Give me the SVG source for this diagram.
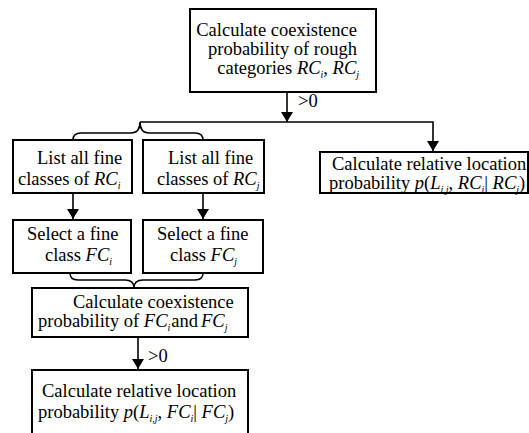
<svg xmlns="http://www.w3.org/2000/svg" width="529" height="433" viewBox="0 0 529 433">
<style>
.box{fill:#fff;stroke:#000;stroke-width:2}
.ln{fill:none;stroke:#000;stroke-width:1.6}
text{font-family:"Liberation Serif","Times New Roman",serif;font-size:18.5px;fill:#000}
.it{font-style:italic}
.sub{font-style:italic;font-size:10px}
</style>
<defs>
<marker id="ah" viewBox="0 0 10 14" refX="10" refY="7" markerWidth="10" markerHeight="14" markerUnits="userSpaceOnUse" orient="auto">
<path d="M0,1 L10,7 L0,13 Z" fill="#000"/>
</marker>
</defs>
<rect width="529" height="433" fill="#fff"/>
<g id="connectors">
<line class="ln" x1="287" y1="92" x2="287" y2="122" marker-end="url(#ah)"/>
<polyline class="ln" points="140,122 433,122 433,151" marker-end="url(#ah)"/>
<path class="ln" d="M73,140 Q73,133 81,133 L131,133 Q140,133 140,122 Q140,133 149,133 L195,133 Q203,133 203,140"/>
<line class="ln" x1="73" y1="193" x2="73" y2="219" marker-end="url(#ah)"/>
<line class="ln" x1="203" y1="193" x2="203" y2="219" marker-end="url(#ah)"/>
<path class="ln" d="M70,273 Q70,280 78,280 L125,280 Q134,280 134,288 Q134,280 143,280 L195,280 Q203,280 203,273"/>
<line class="ln" x1="138" y1="337" x2="138" y2="369" marker-end="url(#ah)"/>
<text x="298" y="107" font-size="20">&gt;0</text>
<text x="148" y="362" font-size="20">&gt;0</text>
</g>
<g id="n1">
<rect class="box" x="190" y="9" width="186" height="83"/>
<text x="357" y="36" text-anchor="end">Calculate coexistence</text>
<text x="357" y="55" text-anchor="end">probability of rough</text>
<text x="359" y="74" text-anchor="end">categories <tspan class="it">RC</tspan><tspan class="sub" dy="4">i</tspan><tspan dy="-4">, </tspan><tspan class="it">RC</tspan><tspan class="sub" dy="4">j</tspan></text>
</g>
<g id="n2">
<rect class="box" x="320" y="152" width="208" height="41"/>
<text x="332" y="170">Calculate relative location</text>
<text x="329" y="189">probability <tspan class="it">p</tspan>(<tspan class="it">L</tspan><tspan class="sub" dy="4">i,j</tspan><tspan dy="-4">, </tspan><tspan class="it">RC</tspan><tspan class="sub" dy="4">i</tspan><tspan dy="-4">| </tspan><tspan class="it">RC</tspan><tspan class="sub" dy="4">j</tspan><tspan dy="-4">)</tspan></text>
</g>
<g id="n3">
<rect class="box" x="13" y="140" width="119" height="53"/>
<text x="37" y="164">List all fine</text>
<text x="18" y="185">classes of <tspan class="it">RC</tspan><tspan class="sub" dy="4">i</tspan></text>
</g>
<g id="n4">
<rect class="box" x="143" y="140" width="121" height="53"/>
<text x="168" y="164">List all fine</text>
<text x="157" y="185">classes of <tspan class="it">RC</tspan><tspan class="sub" dy="4">j</tspan></text>
</g>
<g id="n5">
<rect class="box" x="13" y="220" width="118" height="53"/>
<text x="27" y="240">Select a fine</text>
<text x="45" y="261">class  <tspan class="it">FC</tspan><tspan class="sub" dy="4">i</tspan></text>
</g>
<g id="n6">
<rect class="box" x="143" y="220" width="120" height="53"/>
<text x="157" y="240">Select a fine</text>
<text x="170" y="261">class  <tspan class="it">FC</tspan><tspan class="sub" dy="4">j</tspan></text>
</g>
<g id="n7">
<rect class="box" x="32" y="288" width="216" height="49"/>
<text x="73" y="308">Calculate coexistence</text>
<text x="38" y="327">probability of  <tspan class="it">FC</tspan><tspan class="sub" dy="4">i</tspan><tspan dy="-4" dx="1">and</tspan><tspan class="it" dx="3">FC</tspan><tspan class="sub" dy="4">j</tspan></text>
</g>
<g id="n8">
<rect class="box" x="32" y="370" width="216" height="80"/>
<text x="42" y="397">Calculate relative location</text>
<text x="38" y="418">probability <tspan class="it">p</tspan>(<tspan class="it">L</tspan><tspan class="sub" dy="4">i,j</tspan><tspan dy="-4">, </tspan><tspan class="it">FC</tspan><tspan class="sub" dy="4">i</tspan><tspan dy="-4">| </tspan><tspan class="it">FC</tspan><tspan class="sub" dy="4">j</tspan><tspan dy="-4">)</tspan></text>
</g>
</svg>
